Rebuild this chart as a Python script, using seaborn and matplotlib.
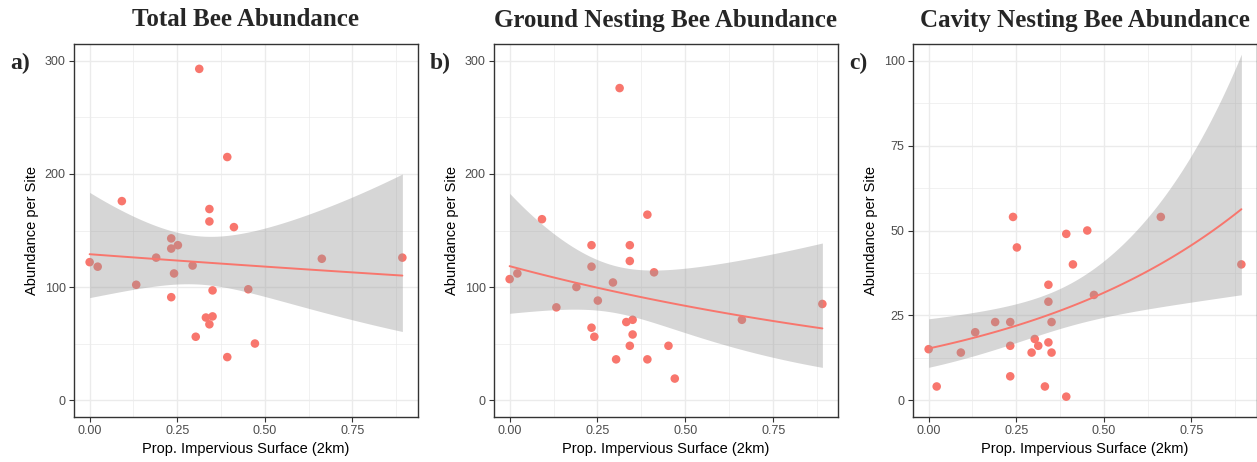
import numpy as np
import pandas as pd
import matplotlib
matplotlib.use("Agg")
import matplotlib.pyplot as plt
from matplotlib.ticker import MultipleLocator
import seaborn as sns

# ---------------- data ----------------
x_total = [0.000, 0.023, 0.092, 0.133, 0.190, 0.233, 0.233, 0.252, 0.241, 0.233,
           0.294, 0.303, 0.313, 0.342, 0.342, 0.332, 0.351, 0.342, 0.351, 0.393,
           0.393, 0.412, 0.453, 0.472, 0.663, 0.893]
y_total = [122, 118, 176, 102, 126, 143, 134, 137, 112, 91,
           119, 56, 293, 169, 158, 73, 74, 67, 97, 215,
           38, 153, 98, 50, 125, 126]

x_ground = [0.000, 0.022, 0.092, 0.133, 0.190, 0.233, 0.233, 0.233, 0.241, 0.251,
            0.294, 0.303, 0.313, 0.332, 0.342, 0.342, 0.342, 0.350, 0.350, 0.392,
            0.392, 0.411, 0.452, 0.470, 0.661, 0.890]
y_ground = [107, 112, 160, 82, 100, 137, 118, 64, 56, 88,
            104, 36, 276, 69, 137, 123, 48, 71, 58, 164,
            36, 113, 48, 19, 71, 85]

x_cavity = [0.000, 0.023, 0.092, 0.133, 0.190, 0.233, 0.241, 0.233, 0.233, 0.252,
            0.294, 0.303, 0.313, 0.332, 0.342, 0.342, 0.342, 0.351, 0.351, 0.393,
            0.393, 0.412, 0.453, 0.472, 0.663, 0.893]
y_cavity = [15, 4, 14, 20, 23, 23, 54, 16, 7, 45,
            14, 18, 16, 4, 34, 29, 17, 23, 14, 49,
            1, 40, 50, 31, 54, 40]

titles = ["Total Bee Abundance", "Ground Nesting Bee Abundance", "Cavity Nesting Bee Abundance"]
panel_tags = ["a)", "b)", "c)"]
ylims = [(0, 300), (0, 300), (0, 100)]
ymajor = [100, 100, 25]
xlabel = "Prop. Impervious Surface (2km)"
ylabel = "Abundance per Site"

POINT = "#F8766D"


def quasipoisson_fit(x, y, grid):
    """Quasi-Poisson GLM (log link) via IRLS, 95% CI on the link scale."""
    x = np.asarray(x, float)
    y = np.asarray(y, float)
    X = np.column_stack([np.ones_like(x), x])
    beta = np.array([np.log(y.mean()), 0.0])
    for _ in range(200):
        eta = X @ beta
        mu = np.exp(eta)
        z = eta + (y - mu) / mu
        WX = X * mu[:, None]
        beta = np.linalg.solve(X.T @ WX, WX.T @ z)
    mu = np.exp(X @ beta)
    phi = np.sum((y - mu) ** 2 / mu) / (len(y) - 2)
    cov = np.linalg.inv(X.T @ (X * mu[:, None])) * phi
    G = np.column_stack([np.ones_like(grid), grid])
    eta = G @ beta
    se = np.sqrt(np.einsum("ij,jk,ik->i", G, cov, G))
    return np.exp(eta), np.exp(eta - 1.96 * se), np.exp(eta + 1.96 * se)


sns.set_theme(style="white")
plt.rcParams["font.family"] = ["Liberation Sans", "DejaVu Sans"]

W, H = 1257, 462
fig = plt.figure(figsize=(W / 100, H / 100), dpi=100)

lefts = [74, 494, 913]
axw = 344
top, bottom = 44, 417

datasets = [(x_total, y_total), (x_ground, y_ground), (x_cavity, y_cavity)]

for i, (xs, ys) in enumerate(datasets):
    ax = fig.add_axes([lefts[i] / W, 1 - bottom / H, axw / W, (bottom - top) / H])
    df = pd.DataFrame({"x": xs, "y": ys})
    grid = np.linspace(min(xs), max(xs), 80)
    fit, lo, hi = quasipoisson_fit(xs, ys, grid)
    fitdf = pd.DataFrame({"x": grid, "fit": fit})

    ax.set_facecolor("white")
    sns.scatterplot(data=df, x="x", y="y", ax=ax, color=POINT, s=38,
                    edgecolor="none", zorder=3)
    ax.fill_between(grid, lo, hi, color="#999999", alpha=0.4, linewidth=0, zorder=4)
    sns.lineplot(data=fitdf, x="x", y="fit", ax=ax, color=POINT, linewidth=1.4,
                 zorder=5)

    ymin, ymax = ylims[i]
    yr = ymax - ymin
    ax.set_ylim(ymin - 0.05 * yr, ymax + 0.05 * yr)
    xr = max(xs) - min(xs)
    ax.set_xlim(min(xs) - 0.05 * xr, max(xs) + 0.05 * xr)

    ax.xaxis.set_major_locator(MultipleLocator(0.25))
    ax.xaxis.set_minor_locator(MultipleLocator(0.125))
    ax.yaxis.set_major_locator(MultipleLocator(ymajor[i]))
    ax.yaxis.set_minor_locator(MultipleLocator(ymajor[i] / 2))
    ax.set_xticks([0, 0.25, 0.5, 0.75])
    ax.set_xticklabels(["0.00", "0.25", "0.50", "0.75"])

    ax.grid(True, which="major", color="#EBEBEB", linewidth=1.0, zorder=0)
    ax.grid(True, which="minor", color="#EBEBEB", linewidth=0.5, zorder=0)
    ax.set_axisbelow(True)

    for sp in ax.spines.values():
        sp.set_color("#333333")
        sp.set_linewidth(1.0)
    ax.tick_params(axis="both", which="major", length=3.5, width=0.8, color="#333333",
                   labelsize=9, labelcolor="#4D4D4D", pad=2.5, bottom=True, left=True)
    ax.tick_params(axis="both", which="minor", length=0)

    ax.set_xlabel(xlabel, fontsize=10.5, color="black", labelpad=3)
    ax.set_ylabel(ylabel, fontsize=10.5, color="black", labelpad=4)

    cx = (lefts[i] + axw / 2) / W
    fig.text(cx, 1 - 20 / H, titles[i], ha="center", va="center",
             fontsize=18, fontweight="bold", family=["Liberation Serif", "DejaVu Serif"])
    fig.text((lefts[i] - 64) / W, 1 - 63 / H, panel_tags[i], ha="left", va="center",
             fontsize=17, fontweight="bold", family=["Liberation Serif", "DejaVu Serif"])

fig.savefig("out.png", dpi=100, facecolor="white")
